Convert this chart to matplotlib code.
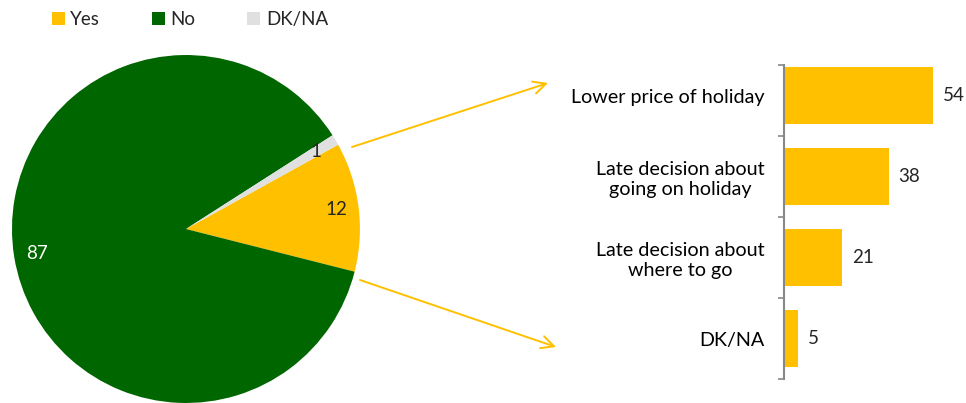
import numpy as np
import matplotlib.pyplot as plt
from matplotlib.patches import Patch, FancyArrowPatch
from matplotlib.ticker import FixedLocator

plt.rcParams.update({"font.family": ["Lato", "DejaVu Sans"],
                     "font.size": 13,
                     "text.color": "#262626"})

## data
pie_labels = ['Yes', 'No', 'DK/NA']
pie_values = [12, 87, 1]
pie_colors = ['#FFC000', '#006600', '#E0E0E0']
pie_text_colors = ['#262626', 'white', '#262626']

reasons = ['Lower price of holiday',
           'Late decision about\ngoing on holiday',
           'Late decision about\nwhere to go',
           'DK/NA']
reason_values = [54, 38, 21, 5]
bar_color = '#FFC000'

fig = plt.figure(figsize=(9.66, 4.03), dpi=100)

## pie on the left
ax1 = fig.add_axes([0.0124, 0.0, 0.3602, 0.8635])
wedges, texts, autotexts = ax1.pie(pie_values, colors=pie_colors, startangle=29,
                                   counterclock=False, radius=1.0,
                                   autopct=lambda p: '%d' % round(p),
                                   pctdistance=0.87,
                                   wedgeprops=dict(linewidth=0))
for t, c in zip(autotexts, pie_text_colors):
    t.set_color(c)
    t.set_fontsize(13.5)
ax1.set_xlim(-1, 1)
ax1.set_ylim(-1, 1)
ax1.set_aspect('equal')

## legend on top
handles = [Patch(facecolor=c, edgecolor='none') for c in pie_colors]
fig.legend(handles, pie_labels, loc='upper left', bbox_to_anchor=(0.036, 1.015),
           ncol=3, frameon=False, handlelength=0.7, handleheight=0.7,
           handletextpad=0.3, columnspacing=2.75, fontsize=13.5)

## bars on the right
ax2 = fig.add_axes([0.8116, 0.0596, 0.1884, 0.7792])
y = np.arange(len(reasons))
ax2.barh(y, reason_values, height=0.70, color=bar_color)
ytop = -0.38
ax2.set_ylim(len(reasons) - 0.5, ytop)
ax2.set_xlim(0, 65.9)
ax2.set_yticks(y)
ax2.set_yticklabels(reasons, ha='right', multialignment='center', fontsize=14.2)
ax2.yaxis.set_minor_locator(FixedLocator([ytop] + list(np.arange(0.5, len(reasons), 1))))
ax2.tick_params(axis='y', which='major', length=0, pad=14)
ax2.tick_params(axis='y', which='minor', length=4, color='#888888', width=1.2)
ax2.set_xticks([])
for s in ['top', 'right', 'bottom']:
    ax2.spines[s].set_visible(False)
ax2.spines['left'].set_color('#888888')
ax2.spines['left'].set_linewidth(1.5)
for yi, v in zip(y, reason_values):
    ax2.text(v + 3.5, yi, str(v), va='center', ha='left', fontsize=13.5)

## connecting arrows
for (x0, y0), (x1, y1) in [((352, 147), (548, 83)), ((360, 280), (556, 347))]:
    fig.patches.append(FancyArrowPatch(
        (x0 / 966, 1 - y0 / 403), (x1 / 966, 1 - y1 / 403),
        transform=fig.transFigure, arrowstyle='->,head_length=9,head_width=4.5',
        color='#FFC000', linewidth=1.4, mutation_scale=1,
        shrinkA=0, shrinkB=0))

plt.savefig('out.png', dpi=100)
